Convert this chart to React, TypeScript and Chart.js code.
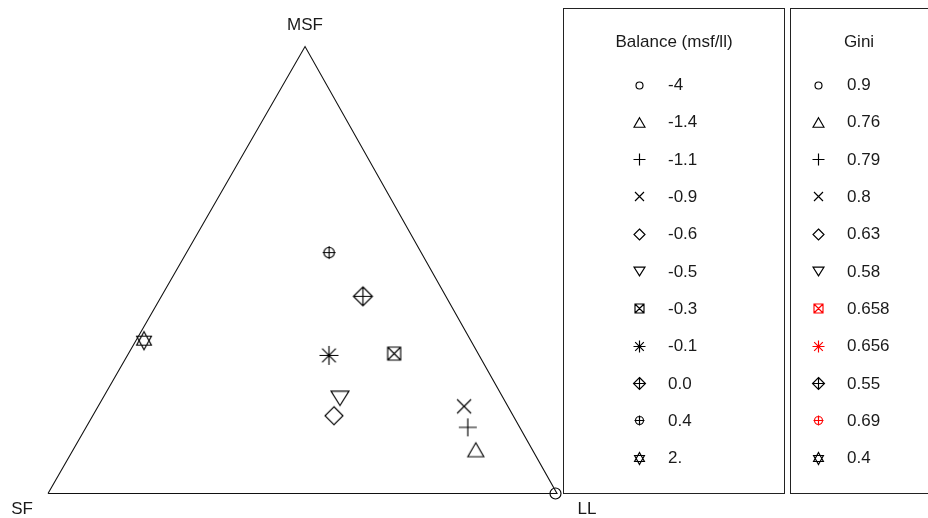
import React, { useEffect, useRef } from 'react';
import { Chart, registerables } from 'chart.js';

Chart.register(...registerables);

// ---------- data ----------
const balanceLabels = ['-4', '-1.4', '-1.1', '-0.9', '-0.6', '-0.5', '-0.3', '-0.1', '0.0', '0.4', '2.'];
const giniLabels = ['0.9', '0.76', '0.79', '0.8', '0.63', '0.58', '0.658', '0.656', '0.55', '0.69', '0.4'];
const giniHighlighted = [false, false, false, false, false, false, true, true, false, true, false];
const symbols = ['circle', 'triangle', 'plus', 'cross', 'diamond', 'triangleDown', 'boxX', 'asterisk', 'diamondPlus', 'circlePlus', 'starDavid'];
// ternary shares (MSF, LL, SF)
const msfShare = [0.0, 0.098, 0.148, 0.195, 0.174, 0.213, 0.313, 0.309, 0.441, 0.539, 0.342];
const llShare = [0.997, 0.791, 0.75, 0.719, 0.474, 0.466, 0.522, 0.396, 0.396, 0.28, 0.016];
const sfShare = [0.003, 0.111, 0.102, 0.086, 0.352, 0.321, 0.165, 0.295, 0.163, 0.181, 0.642];
const vertexLabels = ['SF', 'LL', 'MSF'];
const balanceTitle = 'Balance (msf/ll)';
const giniTitle = 'Gini';

// ---------- layout / style ----------
const W = 928;
const H = 518;
const PX_LEFT = 48;
const PX_RIGHT = 557;
const PX_TOP = 46.5;
const PX_BASE = 493.5;
const APEX_X = 0.505;
const plotSizes = [11, 16, 18, 14, 18, 18, 13, 19, 19, 13, 18];
const legendSizes = [7, 11, 12, 9, 11, 11, 9, 12, 12, 10, 12];
const SYMBOL_LINE = 1.15;
const FONT = '17px "Liberation Sans", Arial, sans-serif';
const TEXT_COLOR = '#1a1a1a';
const RED = '#ff0000';

function project(m: number, l: number, s: number) {
  const t = m + l + s;
  const mm = m / t;
  const ll = l / t;
  return { x: ll + APEX_X * mm, y: mm };
}

function drawSymbol(ctx: CanvasRenderingContext2D, kind: string, cx: number, cy: number, s: number, color: string) {
  const h = s / 2;
  ctx.save();
  ctx.strokeStyle = color;
  ctx.lineWidth = SYMBOL_LINE;
  ctx.beginPath();
  const plus = (r: number) => {
    ctx.moveTo(cx - r, cy);
    ctx.lineTo(cx + r, cy);
    ctx.moveTo(cx, cy - r);
    ctx.lineTo(cx, cy + r);
  };
  const cross = (r: number) => {
    ctx.moveTo(cx - r, cy - r);
    ctx.lineTo(cx + r, cy + r);
    ctx.moveTo(cx - r, cy + r);
    ctx.lineTo(cx + r, cy - r);
  };
  const diamond = (r: number) => {
    ctx.moveTo(cx, cy - r);
    ctx.lineTo(cx + r, cy);
    ctx.lineTo(cx, cy + r);
    ctx.lineTo(cx - r, cy);
    ctx.closePath();
  };
  switch (kind) {
    case 'circle':
      ctx.arc(cx, cy, h, 0, Math.PI * 2);
      break;
    case 'triangle': {
      const th = s * 0.87;
      ctx.moveTo(cx, cy - th / 2);
      ctx.lineTo(cx + h, cy + th / 2);
      ctx.lineTo(cx - h, cy + th / 2);
      ctx.closePath();
      break;
    }
    case 'triangleDown': {
      const th = s * 0.8;
      ctx.moveTo(cx, cy + th / 2);
      ctx.lineTo(cx + h, cy - th / 2);
      ctx.lineTo(cx - h, cy - th / 2);
      ctx.closePath();
      break;
    }
    case 'plus':
      plus(h);
      break;
    case 'cross':
      cross(h);
      break;
    case 'diamond':
      diamond(h);
      break;
    case 'boxX':
      ctx.rect(cx - h, cy - h, s, s);
      cross(h);
      break;
    case 'asterisk':
      plus(h);
      cross(h * 0.72);
      break;
    case 'diamondPlus':
      diamond(h);
      plus(h);
      break;
    case 'circlePlus':
      ctx.moveTo(cx + h * 0.8, cy);
      ctx.arc(cx, cy, h * 0.8, 0, Math.PI * 2);
      plus(h);
      break;
    case 'starDavid': {
      const r = h;
      const w = r * 0.866 * 0.95;
      ctx.moveTo(cx, cy - r);
      ctx.lineTo(cx + w, cy + r * 0.5);
      ctx.lineTo(cx - w, cy + r * 0.5);
      ctx.closePath();
      ctx.moveTo(cx, cy + r);
      ctx.lineTo(cx + w, cy - r * 0.5);
      ctx.lineTo(cx - w, cy - r * 0.5);
      ctx.closePath();
      break;
    }
  }
  ctx.stroke();
  ctx.restore();
}

function makeSymbolCanvas(kind: string, size: number, color: string) {
  const dim = Math.ceil(size) + 4;
  const c = document.createElement('canvas');
  c.width = dim;
  c.height = dim;
  const ctx = c.getContext('2d')!;
  drawSymbol(ctx, kind, dim / 2, dim / 2, size, color);
  return c;
}

const overlayPlugin = {
  id: 'ternaryOverlay',
  afterDraw(chart: any) {
    const ctx: CanvasRenderingContext2D = chart.ctx;
    const xs = chart.scales.x;
    const ys = chart.scales.y;
    ctx.save();
    ctx.font = FONT;
    ctx.fillStyle = TEXT_COLOR;
    ctx.textBaseline = 'middle';
    ctx.textAlign = 'center';
    // vertex labels
    const sfP = project(0, 0, 1);
    const llP = project(0, 1, 0);
    const msfP = project(1, 0, 0);
    ctx.fillText(vertexLabels[0], xs.getPixelForValue(sfP.x) - 26, ys.getPixelForValue(sfP.y) + 16);
    ctx.fillText(vertexLabels[1], xs.getPixelForValue(llP.x) + 30, ys.getPixelForValue(llP.y) + 16);
    ctx.fillText(vertexLabels[2], xs.getPixelForValue(msfP.x), ys.getPixelForValue(msfP.y) - 21);

    // legend boxes
    ctx.strokeStyle = '#222';
    ctx.lineWidth = 1;
    ctx.strokeRect(563.5, 8.5, 221, 485);
    ctx.strokeRect(790.5, 8.5, 300, 485);

    ctx.fillText(balanceTitle, 674, 42);
    ctx.fillText(giniTitle, 859, 42);

    ctx.textAlign = 'left';
    const top = 84.5;
    const gap = 37.3;
    for (let i = 0; i < symbols.length; i++) {
      const y = top + i * gap;
      drawSymbol(ctx, symbols[i], 639.5, Math.round(y) + 0.5, legendSizes[i], '#000');
      ctx.fillStyle = TEXT_COLOR;
      ctx.fillText(balanceLabels[i], 668, y + 1);
      drawSymbol(ctx, symbols[i], 818.5, Math.round(y) + 0.5, legendSizes[i], giniHighlighted[i] ? RED : '#000');
      ctx.fillStyle = TEXT_COLOR;
      ctx.fillText(giniLabels[i], 847, y + 1);
    }
    ctx.restore();
  },
};

export default function App() {
  const ref = useRef<HTMLCanvasElement | null>(null);
  useEffect(() => {
    if (!ref.current) return;
    const span = PX_RIGHT - PX_LEFT;
    const xMin = -PX_LEFT / span;
    const xMax = (W - PX_LEFT) / span;
    const hSpan = PX_BASE - PX_TOP;
    const yMin = -(H - PX_BASE) / hSpan;
    const yMax = PX_BASE / hSpan;

    const outline = [project(0, 0, 1), project(0, 1, 0), project(1, 0, 0), project(0, 0, 1)];
    const pointSets = symbols.map((k, i) => ({
      label: balanceLabels[i],
      data: [project(msfShare[i], llShare[i], sfShare[i])],
      pointStyle: makeSymbolCanvas(k, plotSizes[i], '#000') as any,
      pointRadius: plotSizes[i] / 2,
      showLine: false,
    }));

    const chart = new Chart(ref.current, {
      type: 'scatter',
      data: {
        datasets: [
          {
            label: 'outline',
            data: outline,
            showLine: true,
            borderColor: '#111',
            borderWidth: 1.1,
            pointRadius: 0,
            fill: false,
          } as any,
          ...pointSets,
        ],
      },
      options: {
        animation: false,
        responsive: false,
        events: [],
        layout: { padding: 0, autoPadding: false },
        plugins: { legend: { display: false }, tooltip: { enabled: false }, title: { display: false } },
        scales: {
          x: { type: 'linear', display: false, min: xMin, max: xMax, bounds: 'data' },
          y: { type: 'linear', display: false, min: yMin, max: yMax, bounds: 'data' },
        },
      },
      plugins: [overlayPlugin],
    });
    return () => chart.destroy();
  }, []);
  return (
    <div style={{ position: 'absolute', left: 0, top: 0, width: W, height: H, background: '#fff' }}>
      <canvas ref={ref} width={W} height={H} style={{ display: 'block' }} />
    </div>
  );
}
